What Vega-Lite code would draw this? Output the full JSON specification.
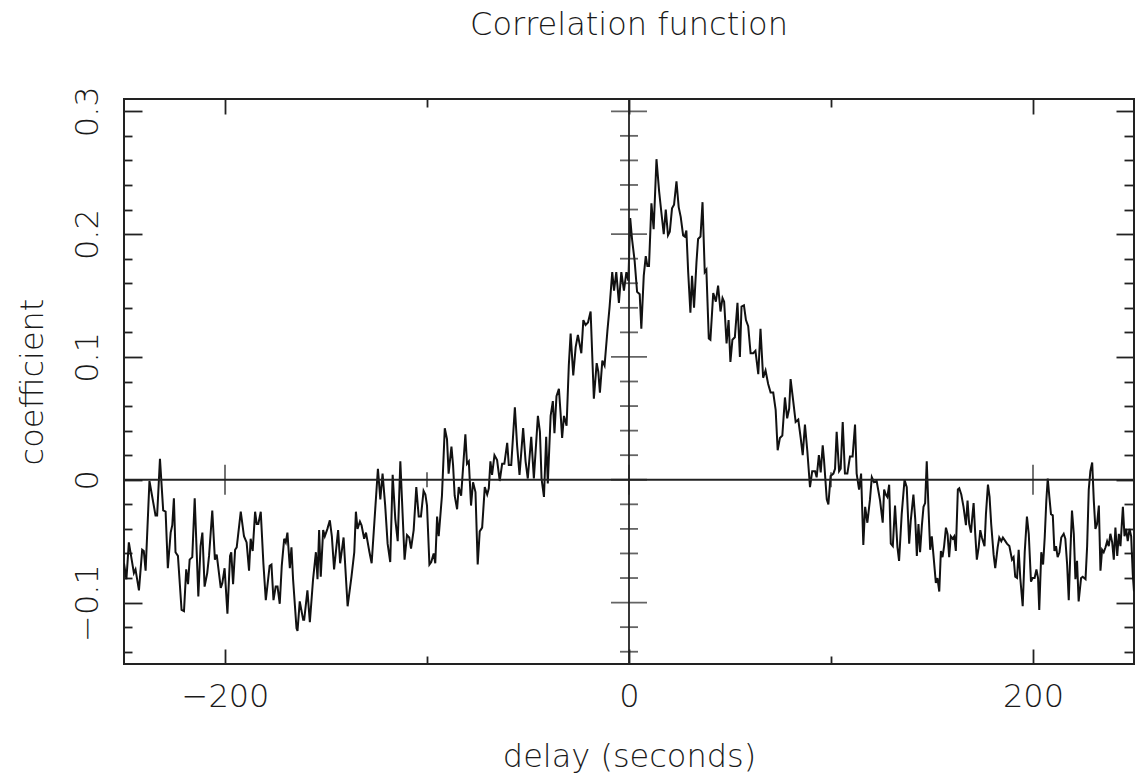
{
  "$schema": "https://vega.github.io/schema/vega-lite/v6.json",
  "width": 1010,
  "height": 565,
  "autosize": {"type": "none"},
  "padding": {"left": 124, "top": 99, "right": 9, "bottom": 118},
  "background": "white",
  "config": {
    "font": "DejaVu Sans",
    "view": {"stroke": "#222", "strokeWidth": 2},
    "axis": {
      "grid": false,
      "domain": false,
      "tickColor": "#222",
      "tickWidth": 1.8,
      "labelFont": "DejaVu Sans",
      "titleFont": "DejaVu Sans",
      "labelFontWeight": 200,
      "titleFontWeight": 200,
      "labelColor": "#1a1a1a",
      "titleColor": "#1a1a1a",
      "labelFlush": false,
      "labelOverlap": false
    }
  },
  "title": {
    "text": "Correlation function",
    "font": "DejaVu Sans",
    "fontSize": 32,
    "fontWeight": 200,
    "color": "#1a1a1a",
    "anchor": "middle",
    "offset": 44
  },
  "datasets": {
    "series": [
      {"delay": -250.0, "coef": -0.068}, {"delay": -248.8, "coef": -0.081}, {"delay": -247.6, "coef": -0.051}, {"delay": -245.1, "coef": -0.076},
      {"delay": -244.3, "coef": -0.073}, {"delay": -242.6, "coef": -0.090}, {"delay": -241.0, "coef": -0.057}, {"delay": -240.2, "coef": -0.058},
      {"delay": -239.3, "coef": -0.074}, {"delay": -237.4, "coef": -0.001}, {"delay": -234.4, "coef": -0.029}, {"delay": -233.6, "coef": -0.029},
      {"delay": -232.2, "coef": 0.017}, {"delay": -230.6, "coef": -0.025}, {"delay": -229.4, "coef": -0.026}, {"delay": -228.3, "coef": -0.072},
      {"delay": -226.9, "coef": -0.043}, {"delay": -226.1, "coef": -0.037}, {"delay": -225.3, "coef": -0.015}, {"delay": -224.5, "coef": -0.059},
      {"delay": -223.3, "coef": -0.062}, {"delay": -221.5, "coef": -0.106}, {"delay": -220.3, "coef": -0.107}, {"delay": -219.2, "coef": -0.073},
      {"delay": -218.3, "coef": -0.085}, {"delay": -217.5, "coef": -0.065}, {"delay": -216.2, "coef": -0.063}, {"delay": -215.0, "coef": -0.015},
      {"delay": -213.2, "coef": -0.095}, {"delay": -212.1, "coef": -0.054}, {"delay": -211.2, "coef": -0.043}, {"delay": -210.1, "coef": -0.087},
      {"delay": -208.8, "coef": -0.076}, {"delay": -207.9, "coef": -0.062}, {"delay": -206.3, "coef": -0.025}, {"delay": -205.0, "coef": -0.065},
      {"delay": -204.1, "coef": -0.061}, {"delay": -202.1, "coef": -0.088}, {"delay": -201.3, "coef": -0.084}, {"delay": -200.2, "coef": -0.072},
      {"delay": -198.8, "coef": -0.109}, {"delay": -197.5, "coef": -0.062}, {"delay": -196.9, "coef": -0.059}, {"delay": -196.0, "coef": -0.085},
      {"delay": -195.0, "coef": -0.057}, {"delay": -194.2, "coef": -0.055}, {"delay": -192.2, "coef": -0.026}, {"delay": -190.6, "coef": -0.046},
      {"delay": -189.3, "coef": -0.051}, {"delay": -188.1, "coef": -0.074}, {"delay": -187.3, "coef": -0.048}, {"delay": -186.3, "coef": -0.058},
      {"delay": -185.1, "coef": -0.026}, {"delay": -184.3, "coef": -0.036}, {"delay": -183.5, "coef": -0.036}, {"delay": -182.3, "coef": -0.026},
      {"delay": -181.0, "coef": -0.068}, {"delay": -179.8, "coef": -0.098}, {"delay": -177.9, "coef": -0.070}, {"delay": -177.0, "coef": -0.069},
      {"delay": -176.0, "coef": -0.098}, {"delay": -174.9, "coef": -0.087}, {"delay": -174.0, "coef": -0.087}, {"delay": -172.9, "coef": -0.101},
      {"delay": -171.9, "coef": -0.070}, {"delay": -170.7, "coef": -0.048}, {"delay": -169.9, "coef": -0.051}, {"delay": -169.1, "coef": -0.043},
      {"delay": -167.9, "coef": -0.072}, {"delay": -167.1, "coef": -0.055}, {"delay": -166.3, "coef": -0.081}, {"delay": -164.6, "coef": -0.121},
      {"delay": -164.1, "coef": -0.123}, {"delay": -163.0, "coef": -0.099}, {"delay": -161.3, "coef": -0.114}, {"delay": -160.8, "coef": -0.114},
      {"delay": -159.2, "coef": -0.090}, {"delay": -158.0, "coef": -0.116}, {"delay": -156.4, "coef": -0.081}, {"delay": -155.0, "coef": -0.059},
      {"delay": -154.2, "coef": -0.081}, {"delay": -153.4, "coef": -0.041}, {"delay": -152.6, "coef": -0.079}, {"delay": -151.4, "coef": -0.041},
      {"delay": -150.6, "coef": -0.046}, {"delay": -149.3, "coef": -0.040}, {"delay": -148.1, "coef": -0.033}, {"delay": -147.1, "coef": -0.046},
      {"delay": -146.0, "coef": -0.073}, {"delay": -144.0, "coef": -0.041}, {"delay": -143.0, "coef": -0.068}, {"delay": -141.3, "coef": -0.047},
      {"delay": -139.3, "coef": -0.103}, {"delay": -137.4, "coef": -0.079}, {"delay": -136.0, "coef": -0.059}, {"delay": -135.2, "coef": -0.026},
      {"delay": -134.4, "coef": -0.040}, {"delay": -133.2, "coef": -0.034}, {"delay": -132.4, "coef": -0.037}, {"delay": -131.1, "coef": -0.048},
      {"delay": -130.2, "coef": -0.043}, {"delay": -128.6, "coef": -0.058}, {"delay": -127.4, "coef": -0.068}, {"delay": -124.3, "coef": 0.009},
      {"delay": -123.1, "coef": -0.016}, {"delay": -122.0, "coef": 0.005}, {"delay": -120.7, "coef": -0.021}, {"delay": -119.5, "coef": -0.052},
      {"delay": -118.2, "coef": -0.067}, {"delay": -117.0, "coef": 0.004}, {"delay": -115.7, "coef": -0.032}, {"delay": -114.5, "coef": -0.050},
      {"delay": -113.2, "coef": 0.015}, {"delay": -112.1, "coef": -0.027}, {"delay": -111.1, "coef": -0.065}, {"delay": -109.9, "coef": -0.045},
      {"delay": -108.8, "coef": -0.047}, {"delay": -107.9, "coef": -0.056}, {"delay": -106.6, "coef": -0.041}, {"delay": -105.3, "coef": -0.006},
      {"delay": -104.1, "coef": -0.030}, {"delay": -103.0, "coef": -0.030}, {"delay": -101.7, "coef": -0.009}, {"delay": -100.8, "coef": -0.012},
      {"delay": -100.0, "coef": -0.021}, {"delay": -98.8, "coef": -0.069}, {"delay": -97.9, "coef": -0.067}, {"delay": -96.7, "coef": -0.060},
      {"delay": -95.9, "coef": -0.068}, {"delay": -95.0, "coef": -0.030}, {"delay": -94.2, "coef": -0.046}, {"delay": -92.6, "coef": -0.013},
      {"delay": -91.2, "coef": 0.042}, {"delay": -90.1, "coef": 0.033}, {"delay": -89.3, "coef": 0.005}, {"delay": -87.9, "coef": 0.027},
      {"delay": -87.1, "coef": 0.012}, {"delay": -86.3, "coef": -0.013}, {"delay": -85.1, "coef": -0.024}, {"delay": -84.3, "coef": -0.006},
      {"delay": -83.1, "coef": -0.013}, {"delay": -81.0, "coef": 0.037}, {"delay": -80.2, "coef": 0.013}, {"delay": -79.3, "coef": 0.015},
      {"delay": -78.2, "coef": -0.021}, {"delay": -77.2, "coef": -0.002}, {"delay": -76.0, "coef": -0.010}, {"delay": -74.9, "coef": -0.069},
      {"delay": -73.9, "coef": -0.042}, {"delay": -72.7, "coef": -0.039}, {"delay": -71.4, "coef": -0.006}, {"delay": -70.2, "coef": -0.012},
      {"delay": -69.4, "coef": -0.007}, {"delay": -68.6, "coef": 0.015}, {"delay": -67.8, "coef": 0.004}, {"delay": -66.6, "coef": 0.020},
      {"delay": -65.3, "coef": 0.016}, {"delay": -64.0, "coef": -0.001}, {"delay": -62.8, "coef": 0.013}, {"delay": -61.7, "coef": 0.013},
      {"delay": -60.3, "coef": 0.030}, {"delay": -59.5, "coef": 0.012}, {"delay": -58.3, "coef": 0.012}, {"delay": -56.5, "coef": 0.059},
      {"delay": -55.4, "coef": 0.028}, {"delay": -54.2, "coef": 0.004}, {"delay": -52.4, "coef": 0.042}, {"delay": -51.2, "coef": 0.015},
      {"delay": -50.1, "coef": 0.001}, {"delay": -48.4, "coef": 0.035}, {"delay": -47.1, "coef": 0.001}, {"delay": -45.1, "coef": 0.052},
      {"delay": -44.1, "coef": 0.039}, {"delay": -43.3, "coef": 0.001}, {"delay": -42.1, "coef": -0.014}, {"delay": -41.0, "coef": 0.035},
      {"delay": -40.2, "coef": -0.003}, {"delay": -38.8, "coef": 0.052}, {"delay": -37.7, "coef": 0.064}, {"delay": -36.9, "coef": 0.038},
      {"delay": -35.9, "coef": 0.068}, {"delay": -34.7, "coef": 0.074}, {"delay": -33.9, "coef": 0.055}, {"delay": -33.1, "coef": 0.034},
      {"delay": -32.2, "coef": 0.052}, {"delay": -30.9, "coef": 0.044}, {"delay": -29.8, "coef": 0.093}, {"delay": -28.9, "coef": 0.119},
      {"delay": -27.6, "coef": 0.085}, {"delay": -26.4, "coef": 0.108}, {"delay": -25.3, "coef": 0.118}, {"delay": -23.6, "coef": 0.103},
      {"delay": -22.6, "coef": 0.130}, {"delay": -21.5, "coef": 0.126}, {"delay": -20.3, "coef": 0.128}, {"delay": -19.0, "coef": 0.137},
      {"delay": -17.4, "coef": 0.066}, {"delay": -16.0, "coef": 0.095}, {"delay": -15.2, "coef": 0.088}, {"delay": -14.4, "coef": 0.071},
      {"delay": -13.2, "coef": 0.097}, {"delay": -12.1, "coef": 0.093}, {"delay": -10.7, "coef": 0.121}, {"delay": -9.6, "coef": 0.141},
      {"delay": -8.3, "coef": 0.169}, {"delay": -7.4, "coef": 0.154}, {"delay": -6.3, "coef": 0.169}, {"delay": -5.0, "coef": 0.144},
      {"delay": -3.8, "coef": 0.169}, {"delay": -2.5, "coef": 0.154}, {"delay": -1.3, "coef": 0.169}, {"delay": -0.3, "coef": 0.162},
      {"delay": 0.6, "coef": 0.213}, {"delay": 1.5, "coef": 0.196}, {"delay": 2.8, "coef": 0.178}, {"delay": 4.0, "coef": 0.153},
      {"delay": 5.3, "coef": 0.151}, {"delay": 6.1, "coef": 0.123}, {"delay": 7.3, "coef": 0.166}, {"delay": 8.3, "coef": 0.182},
      {"delay": 9.1, "coef": 0.174}, {"delay": 9.9, "coef": 0.174}, {"delay": 11.1, "coef": 0.225}, {"delay": 12.2, "coef": 0.204},
      {"delay": 13.6, "coef": 0.261}, {"delay": 14.9, "coef": 0.235}, {"delay": 16.0, "coef": 0.218}, {"delay": 17.2, "coef": 0.200},
      {"delay": 18.2, "coef": 0.220}, {"delay": 19.3, "coef": 0.199}, {"delay": 20.2, "coef": 0.202}, {"delay": 21.3, "coef": 0.221},
      {"delay": 22.3, "coef": 0.224}, {"delay": 23.5, "coef": 0.243}, {"delay": 24.6, "coef": 0.222}, {"delay": 25.6, "coef": 0.214},
      {"delay": 26.8, "coef": 0.199}, {"delay": 27.6, "coef": 0.198}, {"delay": 28.4, "coef": 0.203}, {"delay": 29.3, "coef": 0.169},
      {"delay": 30.4, "coef": 0.136}, {"delay": 31.2, "coef": 0.166}, {"delay": 32.2, "coef": 0.140}, {"delay": 33.4, "coef": 0.177},
      {"delay": 34.2, "coef": 0.196}, {"delay": 35.4, "coef": 0.198}, {"delay": 36.4, "coef": 0.226}, {"delay": 37.5, "coef": 0.169},
      {"delay": 38.3, "coef": 0.171}, {"delay": 39.5, "coef": 0.115}, {"delay": 40.3, "coef": 0.114}, {"delay": 41.7, "coef": 0.152},
      {"delay": 43.0, "coef": 0.145}, {"delay": 44.1, "coef": 0.158}, {"delay": 45.3, "coef": 0.137}, {"delay": 46.3, "coef": 0.148},
      {"delay": 47.1, "coef": 0.145}, {"delay": 48.3, "coef": 0.111}, {"delay": 49.3, "coef": 0.130}, {"delay": 50.2, "coef": 0.096},
      {"delay": 51.2, "coef": 0.114}, {"delay": 52.4, "coef": 0.116}, {"delay": 53.7, "coef": 0.144}, {"delay": 54.9, "coef": 0.100},
      {"delay": 55.7, "coef": 0.141}, {"delay": 56.9, "coef": 0.142}, {"delay": 57.9, "coef": 0.130}, {"delay": 59.0, "coef": 0.125},
      {"delay": 60.2, "coef": 0.103}, {"delay": 61.5, "coef": 0.103}, {"delay": 62.6, "coef": 0.105}, {"delay": 64.0, "coef": 0.086},
      {"delay": 65.1, "coef": 0.123}, {"delay": 66.4, "coef": 0.083}, {"delay": 67.6, "coef": 0.089}, {"delay": 68.9, "coef": 0.078},
      {"delay": 70.1, "coef": 0.071}, {"delay": 71.4, "coef": 0.071}, {"delay": 72.6, "coef": 0.057}, {"delay": 73.6, "coef": 0.024},
      {"delay": 74.7, "coef": 0.034}, {"delay": 75.9, "coef": 0.036}, {"delay": 77.2, "coef": 0.067}, {"delay": 78.3, "coef": 0.050},
      {"delay": 79.3, "coef": 0.058}, {"delay": 80.0, "coef": 0.082}, {"delay": 81.3, "coef": 0.064}, {"delay": 82.5, "coef": 0.047},
      {"delay": 83.8, "coef": 0.049}, {"delay": 85.0, "coef": 0.034}, {"delay": 86.0, "coef": 0.020}, {"delay": 87.1, "coef": 0.045},
      {"delay": 88.3, "coef": 0.023}, {"delay": 89.6, "coef": -0.006}, {"delay": 90.7, "coef": 0.007}, {"delay": 92.1, "coef": 0.007},
      {"delay": 92.9, "coef": 0.002}, {"delay": 94.0, "coef": 0.020}, {"delay": 94.9, "coef": 0.006}, {"delay": 95.9, "coef": 0.028},
      {"delay": 96.5, "coef": 0.017}, {"delay": 97.9, "coef": -0.016}, {"delay": 98.7, "coef": -0.020}, {"delay": 99.8, "coef": 0.003},
      {"delay": 101.2, "coef": 0.005}, {"delay": 102.0, "coef": 0.009}, {"delay": 102.8, "coef": 0.039}, {"delay": 104.0, "coef": 0.007},
      {"delay": 104.8, "coef": 0.009}, {"delay": 105.8, "coef": 0.047}, {"delay": 106.9, "coef": 0.005}, {"delay": 108.1, "coef": 0.005},
      {"delay": 109.4, "coef": 0.019}, {"delay": 110.7, "coef": 0.019}, {"delay": 111.9, "coef": 0.045}, {"delay": 112.7, "coef": 0.005},
      {"delay": 113.9, "coef": -0.008}, {"delay": 114.9, "coef": 0.005}, {"delay": 116.0, "coef": -0.053}, {"delay": 116.9, "coef": -0.022},
      {"delay": 118.0, "coef": -0.035}, {"delay": 119.3, "coef": -0.016}, {"delay": 120.2, "coef": 0.002}, {"delay": 121.3, "coef": -0.002},
      {"delay": 122.6, "coef": -0.001}, {"delay": 124.3, "coef": -0.017}, {"delay": 125.6, "coef": -0.035}, {"delay": 126.3, "coef": -0.008},
      {"delay": 127.1, "coef": -0.012}, {"delay": 127.9, "coef": -0.014}, {"delay": 128.8, "coef": -0.004}, {"delay": 129.6, "coef": -0.052},
      {"delay": 130.6, "coef": -0.054}, {"delay": 131.7, "coef": -0.021}, {"delay": 132.9, "coef": -0.055}, {"delay": 133.7, "coef": -0.066},
      {"delay": 135.0, "coef": -0.028}, {"delay": 136.4, "coef": 0.000}, {"delay": 137.5, "coef": -0.006}, {"delay": 138.7, "coef": -0.052},
      {"delay": 139.5, "coef": -0.033}, {"delay": 140.8, "coef": -0.012}, {"delay": 141.7, "coef": -0.032}, {"delay": 142.5, "coef": -0.062},
      {"delay": 143.3, "coef": -0.036}, {"delay": 144.1, "coef": -0.059}, {"delay": 145.0, "coef": -0.037}, {"delay": 145.8, "coef": -0.022},
      {"delay": 146.6, "coef": -0.019}, {"delay": 147.4, "coef": 0.015}, {"delay": 148.3, "coef": -0.025}, {"delay": 149.1, "coef": -0.057},
      {"delay": 149.9, "coef": -0.046}, {"delay": 150.7, "coef": -0.061}, {"delay": 151.9, "coef": -0.084}, {"delay": 152.7, "coef": -0.080},
      {"delay": 153.6, "coef": -0.091}, {"delay": 154.4, "coef": -0.058}, {"delay": 155.2, "coef": -0.063}, {"delay": 156.0, "coef": -0.054},
      {"delay": 156.9, "coef": -0.039}, {"delay": 157.7, "coef": -0.044}, {"delay": 158.5, "coef": -0.063}, {"delay": 159.3, "coef": -0.046},
      {"delay": 160.2, "coef": -0.048}, {"delay": 161.0, "coef": -0.046}, {"delay": 161.8, "coef": -0.058}, {"delay": 162.8, "coef": -0.008},
      {"delay": 163.5, "coef": -0.007}, {"delay": 164.5, "coef": -0.012}, {"delay": 165.6, "coef": -0.022}, {"delay": 166.8, "coef": -0.037},
      {"delay": 167.6, "coef": -0.017}, {"delay": 168.4, "coef": -0.036}, {"delay": 169.3, "coef": -0.043}, {"delay": 169.8, "coef": -0.033},
      {"delay": 170.6, "coef": -0.019}, {"delay": 171.4, "coef": -0.044}, {"delay": 172.2, "coef": -0.065}, {"delay": 173.1, "coef": -0.055},
      {"delay": 173.9, "coef": -0.041}, {"delay": 174.7, "coef": -0.047}, {"delay": 176.0, "coef": -0.054}, {"delay": 176.7, "coef": -0.028},
      {"delay": 177.7, "coef": -0.004}, {"delay": 178.5, "coef": -0.014}, {"delay": 179.3, "coef": -0.036}, {"delay": 180.5, "coef": -0.061},
      {"delay": 181.3, "coef": -0.072}, {"delay": 182.5, "coef": -0.055}, {"delay": 183.3, "coef": -0.047}, {"delay": 184.3, "coef": -0.050},
      {"delay": 185.1, "coef": -0.047}, {"delay": 186.3, "coef": -0.050}, {"delay": 187.1, "coef": -0.052}, {"delay": 188.3, "coef": -0.054},
      {"delay": 189.6, "coef": -0.065}, {"delay": 190.4, "coef": -0.063}, {"delay": 191.2, "coef": -0.079}, {"delay": 192.1, "coef": -0.080},
      {"delay": 192.9, "coef": -0.057}, {"delay": 193.7, "coef": -0.080}, {"delay": 194.9, "coef": -0.103}, {"delay": 195.9, "coef": -0.059},
      {"delay": 197.0, "coef": -0.030}, {"delay": 197.9, "coef": -0.044}, {"delay": 199.0, "coef": -0.083}, {"delay": 199.8, "coef": -0.080},
      {"delay": 200.8, "coef": -0.080}, {"delay": 201.7, "coef": -0.073}, {"delay": 202.5, "coef": -0.080}, {"delay": 203.1, "coef": -0.106},
      {"delay": 204.1, "coef": -0.059}, {"delay": 205.0, "coef": -0.069}, {"delay": 205.8, "coef": -0.047}, {"delay": 206.6, "coef": -0.017},
      {"delay": 207.3, "coef": 0.001}, {"delay": 208.1, "coef": -0.014}, {"delay": 208.9, "coef": -0.028}, {"delay": 209.8, "coef": -0.029},
      {"delay": 210.6, "coef": -0.058}, {"delay": 211.4, "coef": -0.054}, {"delay": 212.2, "coef": -0.063}, {"delay": 213.1, "coef": -0.059},
      {"delay": 214.0, "coef": -0.047}, {"delay": 215.2, "coef": -0.044}, {"delay": 216.0, "coef": -0.048}, {"delay": 216.9, "coef": -0.069},
      {"delay": 217.7, "coef": -0.098}, {"delay": 218.5, "coef": -0.059}, {"delay": 219.3, "coef": -0.025}, {"delay": 220.2, "coef": -0.044},
      {"delay": 221.0, "coef": -0.081}, {"delay": 221.8, "coef": -0.066}, {"delay": 222.6, "coef": -0.099}, {"delay": 223.8, "coef": -0.080},
      {"delay": 224.6, "coef": -0.079}, {"delay": 226.0, "coef": -0.081}, {"delay": 226.8, "coef": -0.054}, {"delay": 227.6, "coef": -0.008},
      {"delay": 228.4, "coef": 0.007}, {"delay": 229.3, "coef": 0.014}, {"delay": 230.1, "coef": -0.017}, {"delay": 230.9, "coef": -0.040},
      {"delay": 231.7, "coef": -0.036}, {"delay": 232.6, "coef": -0.021}, {"delay": 233.4, "coef": -0.074}, {"delay": 234.2, "coef": -0.057},
      {"delay": 235.0, "coef": -0.059}, {"delay": 235.9, "coef": -0.055}, {"delay": 236.7, "coef": -0.050}, {"delay": 237.5, "coef": -0.054},
      {"delay": 238.3, "coef": -0.044}, {"delay": 239.2, "coef": -0.051}, {"delay": 240.0, "coef": -0.065}, {"delay": 240.8, "coef": -0.039},
      {"delay": 241.7, "coef": -0.062}, {"delay": 242.5, "coef": -0.044}, {"delay": 243.3, "coef": -0.054}, {"delay": 244.5, "coef": -0.022},
      {"delay": 245.3, "coef": -0.046}, {"delay": 246.1, "coef": -0.040}, {"delay": 246.9, "coef": -0.050}, {"delay": 247.8, "coef": -0.040},
      {"delay": 248.6, "coef": -0.046}, {"delay": 249.4, "coef": -0.077}, {"delay": 250.0, "coef": -0.091}
    ],
    "zero": [{"v": 0}],
    "yticks": [
      {"v": -0.14, "major": false}, {"v": -0.12, "major": false}, {"v": -0.1, "major": true}, {"v": -0.08, "major": false},
      {"v": -0.06, "major": false}, {"v": -0.04, "major": false}, {"v": -0.02, "major": false}, {"v": 0, "major": true},
      {"v": 0.02, "major": false}, {"v": 0.04, "major": false}, {"v": 0.06, "major": false}, {"v": 0.08, "major": false},
      {"v": 0.1, "major": true}, {"v": 0.12, "major": false}, {"v": 0.14, "major": false}, {"v": 0.16, "major": false},
      {"v": 0.18, "major": false}, {"v": 0.2, "major": true}, {"v": 0.22, "major": false}, {"v": 0.24, "major": false},
      {"v": 0.26, "major": false}, {"v": 0.28, "major": false}, {"v": 0.3, "major": true}
    ],
    "xticks": [
      {"v": -200, "major": true}, {"v": -100, "major": false}, {"v": 0, "major": true}, {"v": 100, "major": false}, {"v": 200, "major": true}
    ]
  },
  "layer": [
    {
      "data": {"name": "series"},
      "mark": {"type": "line", "color": "#111", "strokeWidth": 2, "clip": true},
      "encoding": {
        "x": {
          "field": "delay", "type": "quantitative",
          "scale": {"domain": [-250, 250], "nice": false, "zero": false},
          "axis": {
            "orient": "bottom", "values": [-200, 0, 200], "format": "~r",
            "tickSize": -15, "labelPadding": 32, "labelFontSize": 32,
            "title": "delay (seconds)", "titleFontSize": 32, "titlePadding": 29
          }
        },
        "y": {
          "field": "coef", "type": "quantitative",
          "scale": {"domain": [-0.15, 0.31], "nice": false, "zero": false},
          "axis": {
            "orient": "left", "values": [-0.1, 0, 0.1, 0.2, 0.3], "format": "~r",
            "tickSize": -18, "labelAngle": 270, "labelAlign": "center", "labelBaseline": "alphabetic",
            "labelPadding": 45, "labelFontSize": 32,
            "title": "coefficient", "titleFontSize": 32, "titlePadding": 22
          }
        }
      }
    },
    {
      "data": {"name": "zero"},
      "mark": {"type": "rule", "color": "#222", "strokeWidth": 1.8},
      "encoding": {
        "y": {
          "field": "v", "type": "quantitative",
          "scale": {"domain": [-0.15, 0.31], "nice": false, "zero": false},
          "axis": {"orient": "right", "values": [-0.1, 0, 0.1, 0.2, 0.3], "tickSize": -18, "labels": false, "title": null}
        }
      }
    },
    {
      "data": {"name": "zero"},
      "mark": {"type": "rule", "color": "#222", "strokeWidth": 1.8},
      "encoding": {
        "x": {
          "field": "v", "type": "quantitative",
          "scale": {"domain": [-250, 250], "nice": false, "zero": false},
          "axis": {"orient": "top", "values": [-200, 0, 200], "tickSize": -15, "labels": false, "title": null}
        }
      }
    },
    {
      "data": {"name": "yticks"},
      "mark": {"type": "tick", "orient": "horizontal", "color": "#222", "thickness": 1.8},
      "encoding": {
        "x": {
          "datum": 0, "type": "quantitative",
          "scale": {"domain": [-250, 250], "nice": false, "zero": false},
          "axis": {"orient": "top", "values": [-100, 100], "tickSize": -8, "labels": false, "title": null}
        },
        "y": {
          "field": "v", "type": "quantitative",
          "scale": {"domain": [-0.15, 0.31], "nice": false, "zero": false},
          "axis": {
            "orient": "left",
            "values": [-0.14, -0.12, -0.08, -0.06, -0.04, -0.02, 0.02, 0.04, 0.06, 0.08, 0.12, 0.14, 0.16, 0.18, 0.22, 0.24, 0.26, 0.28],
            "tickSize": -8, "labels": false, "title": null
          }
        },
        "size": {"condition": {"test": "datum.major", "value": 36}, "value": 18}
      }
    },
    {
      "data": {"name": "xticks"},
      "mark": {"type": "tick", "orient": "vertical", "color": "#222", "thickness": 1.8},
      "encoding": {
        "x": {
          "field": "v", "type": "quantitative",
          "scale": {"domain": [-250, 250], "nice": false, "zero": false},
          "axis": {"orient": "bottom", "values": [-100, 100], "tickSize": -8, "labels": false, "title": null}
        },
        "y": {
          "datum": 0, "type": "quantitative",
          "scale": {"domain": [-0.15, 0.31], "nice": false, "zero": false},
          "axis": {
            "orient": "right",
            "values": [-0.14, -0.12, -0.08, -0.06, -0.04, -0.02, 0.02, 0.04, 0.06, 0.08, 0.12, 0.14, 0.16, 0.18, 0.22, 0.24, 0.26, 0.28],
            "tickSize": -10, "labels": false, "title": null
          }
        },
        "size": {"condition": {"test": "datum.major", "value": 30}, "value": 15}
      }
    }
  ],
  "resolve": {"axis": {"x": "independent", "y": "independent"}}
}
